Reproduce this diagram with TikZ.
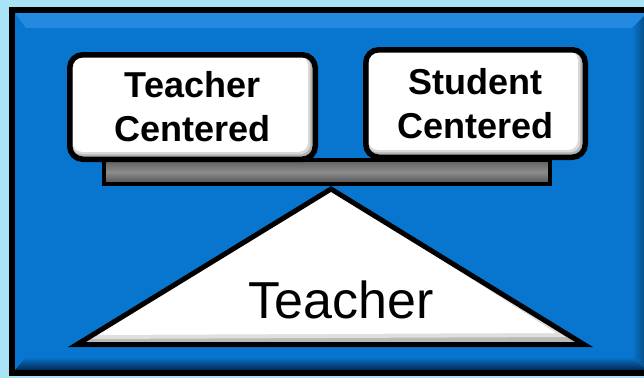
\documentclass[tikz,border=0pt]{standalone}
\usepackage{fontspec}
\setmainfont{Liberation Sans}
\definecolor{bgblue}{RGB}{168,228,246}
\definecolor{mainblue}{RGB}{8,118,206}
\definecolor{topblue}{RGB}{36,138,224}
\definecolor{darkblue}{RGB}{4,40,84}
\definecolor{beamtop}{RGB}{95,95,95}
\definecolor{beammid}{RGB}{140,140,140}
\definecolor{beambot}{RGB}{80,80,80}
\begin{document}
\begin{tikzpicture}[x=1pt,y=1pt,
  card/.style={draw=black, line width=5.5pt, rounded corners=13pt, fill=gray!60,
    inner sep=0pt, align=center, text=black,
    font=\fontsize{36}{44}\selectfont\bfseries,
    path picture={
      \fill[gray!30, rounded corners=10pt] ([shift={(1.5pt,-1pt)}]path picture bounding box.north west) rectangle ([shift={(-5pt,5pt)}]path picture bounding box.south east);
      \fill[white, rounded corners=9pt] ([shift={(3pt,-1pt)}]path picture bounding box.north west) rectangle ([shift={(-7.5pt,7.5pt)}]path picture bounding box.south east);
    }},
  beambar/.style={draw=black, line width=4pt, inner sep=0pt,
    top color=beamtop, bottom color=beambot, middle color=beammid},
  bigtext/.style={font=\fontsize{52}{60}\selectfont, text=black, inner sep=0pt}
]
\useasboundingbox (0,0) rectangle (644,-378);
\clip (0,0) rectangle (644,-378);
\fill[bgblue] (0,0) rectangle (644,-378);

% blue panel with bevel
\coordinate (A) at (15,-13);
\coordinate (B) at (647,-13);
\coordinate (C) at (647,-370);
\coordinate (D) at (15,-370);
\fill[mainblue] (A) rectangle (C);
\fill[topblue] (A) -- (B) -- (632,-28) -- (26,-28) -- cycle;
\shade[top color=mainblue, bottom color=darkblue] (D) -- (26,-357) -- (632,-357) -- (C) -- cycle;
\shade[left color=mainblue, right color=mainblue!60!black] (B) -- (632,-28) -- (632,-357) -- (C) -- cycle;
\draw[black, line width=6pt] (12,-10) rectangle (650,-373);

% beam
\node[beambar, minimum width=446pt, minimum height=24pt] (beam) at (327,-172) {};

% fulcrum triangle
\coordinate (apex) at (331,-189);
\coordinate (bl) at (77,-344.5);
\coordinate (br) at (584,-344.5);
\begin{scope}
  \clip (apex) -- (bl) -- (br) -- cycle;
  \fill[gray!55] (apex) -- (bl) -- (br) -- cycle;
  \fill[gray!25] (apex) -- (88,-339) -- (566,-337) -- cycle;
  \fill[white] (apex) -- (92,-335) -- (556,-333) -- cycle;
\end{scope}
\draw[black, line width=5pt, line join=miter] (apex) -- (bl) -- (br) -- cycle;
\node[bigtext, anchor=base] (fulcrum) at (341,-318) {Teacher};

% pans
\node[card, minimum width=245.5pt, minimum height=104.5pt] (tc) at (192.5,-107) {Teacher\\Centered};
\node[card, minimum width=219.5pt, minimum height=107.5pt] (sc) at (475.5,-103.5) {Student\\Centered};
\end{tikzpicture}
\end{document}
